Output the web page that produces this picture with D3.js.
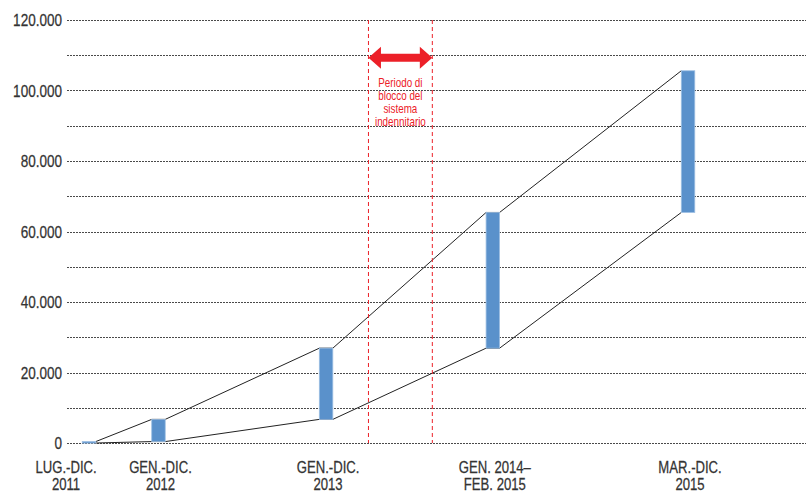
<!DOCTYPE html>
<html>
<head>
<meta charset="utf-8">
<script src="https://cdn.jsdelivr.net/npm/d3@7"></script>
<style>
  html, body { margin: 0; padding: 0; background: #fff; }
  svg { display: block; font-family: "Liberation Sans", Arial, sans-serif; }
</style>
</head>
<body>
<svg id="chart" width="806" height="494"></svg>
<script>
// Periods (two-line labels)
const periodLines = [
  ["LUG.-DIC.", "2011"],
  ["GEN.-DIC.", "2012"],
  ["GEN.-DIC.", "2013"],
  ["GEN. 2014–", "FEB. 2015"],
  ["MAR.-DIC.", "2015"]
];
// Position of each period along the time axis (axis units)
const periodSlots = [0.79, 3.28, 9.29, 15.27, 22.27];
// New amounts added in each period
const increments = [400, 6300, 20200, 38500, 40200];
// Y axis ticks
const yTicks = [0, 20000, 40000, 60000, 80000, 100000, 120000];
const yGrid = d3.range(0, 120001, 10000);
// Block period of the indemnity system (axis units)
const blockPeriod = [10.81, 13.1];
const blockText = ["Periodo di", "blocco del", "sistema", "indennitario"];

const svg = d3.select("#chart");
const plot = { left: 67, right: 806, top: 20, bottom: 443 };
const narrow = 0.82; // horizontal squeeze for a narrow face

const x = d3.scaleLinear().domain([0, 26.5]).range([plot.left, plot.right]);
const y = d3.scaleLinear().domain([0, 120000]).range([plot.bottom, plot.top]);

const fmt = d3.formatLocale({ decimal: ",", thousands: ".", grouping: [3], currency: ["", "€"] }).format(",d");

// cumulative floating bars
const tops = d3.cumsum(increments);
const bars = periodLines.map((p, i) => ({
  slot: periodSlots[i],
  bottom: i === 0 ? 0 : tops[i - 1],
  top: tops[i]
}));
const barW = 13.5;

// gridlines
svg.append("g").selectAll("line").data(yGrid).join("line")
  .attr("x1", plot.left).attr("x2", plot.right)
  .attr("y1", d => Math.round(y(d)) + 0.5).attr("y2", d => Math.round(y(d)) + 0.5)
  .attr("stroke", "#4a4a4a").attr("stroke-width", 1).attr("stroke-dasharray", "2,1");

// y labels
svg.append("g").selectAll("text").data(yTicks).join("text")
  .attr("transform", d => `translate(62,${y(d) + 6}) scale(${narrow},1)`)
  .attr("text-anchor", "end")
  .attr("font-size", 16.5).attr("fill", "#333")
  .attr("stroke", "#333").attr("stroke-width", 0.25)
  .text(d => fmt(d));

// connector lines between bars: upper through tops, lower through bottoms
const upper = [], lower = [];
bars.forEach((b, i) => {
  const l = x(b.slot) - barW / 2, r = x(b.slot) + barW / 2;
  if (i > 0) { upper.push([l, y(b.top)]); lower.push([l, y(b.bottom)]); }
  if (i < bars.length - 1) { upper.push([r, y(b.top)]); lower.push([r, y(b.bottom)]); }
});
const line = d3.line();
[upper, lower].forEach(pts => {
  svg.append("path").attr("d", line(pts))
    .attr("fill", "none").attr("stroke", "#222").attr("stroke-width", 1);
});

// bars
svg.append("g").selectAll("rect").data(bars).join("rect")
  .attr("x", d => x(d.slot) - barW / 2)
  .attr("width", barW)
  .attr("y", d => y(d.top))
  .attr("height", d => Math.max(1.5, y(d.bottom) - y(d.top)))
  .attr("fill", "#5a91cb")
  .attr("stroke", "#9dbfe3").attr("stroke-width", 0.8);

// x labels
const xl = svg.append("g").selectAll("text").data(periodLines).join("text")
  .attr("text-anchor", "middle")
  .attr("font-size", 16).attr("fill", "#333")
  .attr("stroke", "#333").attr("stroke-width", 0.25)
  .attr("transform", (d, i) => `translate(${x(periodSlots[i]) + (i === 0 ? -23 : 2)},0) scale(${narrow},1)`);
xl.selectAll("tspan").data(d => d).join("tspan")
  .attr("x", 0).attr("y", (d, j) => 473 + j * 17.5)
  .text(d => d);

// block period: dashed boundaries, double arrow, caption
const red = "#ec2028";
svg.append("g").selectAll("line").data(blockPeriod).join("line")
  .attr("x1", d => x(d)).attr("x2", d => x(d))
  .attr("y1", plot.top).attr("y2", plot.bottom)
  .attr("stroke", red).attr("stroke-width", 1).attr("stroke-dasharray", "4,3");

const ax0 = x(blockPeriod[0]), ax1 = x(blockPeriod[1]), ay = 57.8;
const head = 12.5, hh = 11, sh = 4;
svg.append("path")
  .attr("d", `M${ax0},${ay} L${ax0 + head},${ay - hh} L${ax0 + head},${ay - sh} L${ax1 - head},${ay - sh} L${ax1 - head},${ay - hh} L${ax1},${ay} L${ax1 - head},${ay + hh} L${ax1 - head},${ay + sh} L${ax0 + head},${ay + sh} L${ax0 + head},${ay + hh} Z`)
  .attr("fill", red);

svg.append("g").selectAll("text").data(blockText).join("text")
  .attr("transform", (d, i) => `translate(${(ax0 + ax1) / 2},${87 + i * 13}) scale(${narrow},1)`)
  .attr("text-anchor", "middle").attr("font-size", 12).attr("fill", red)
  .text(d => d);
</script>
</body>
</html>
